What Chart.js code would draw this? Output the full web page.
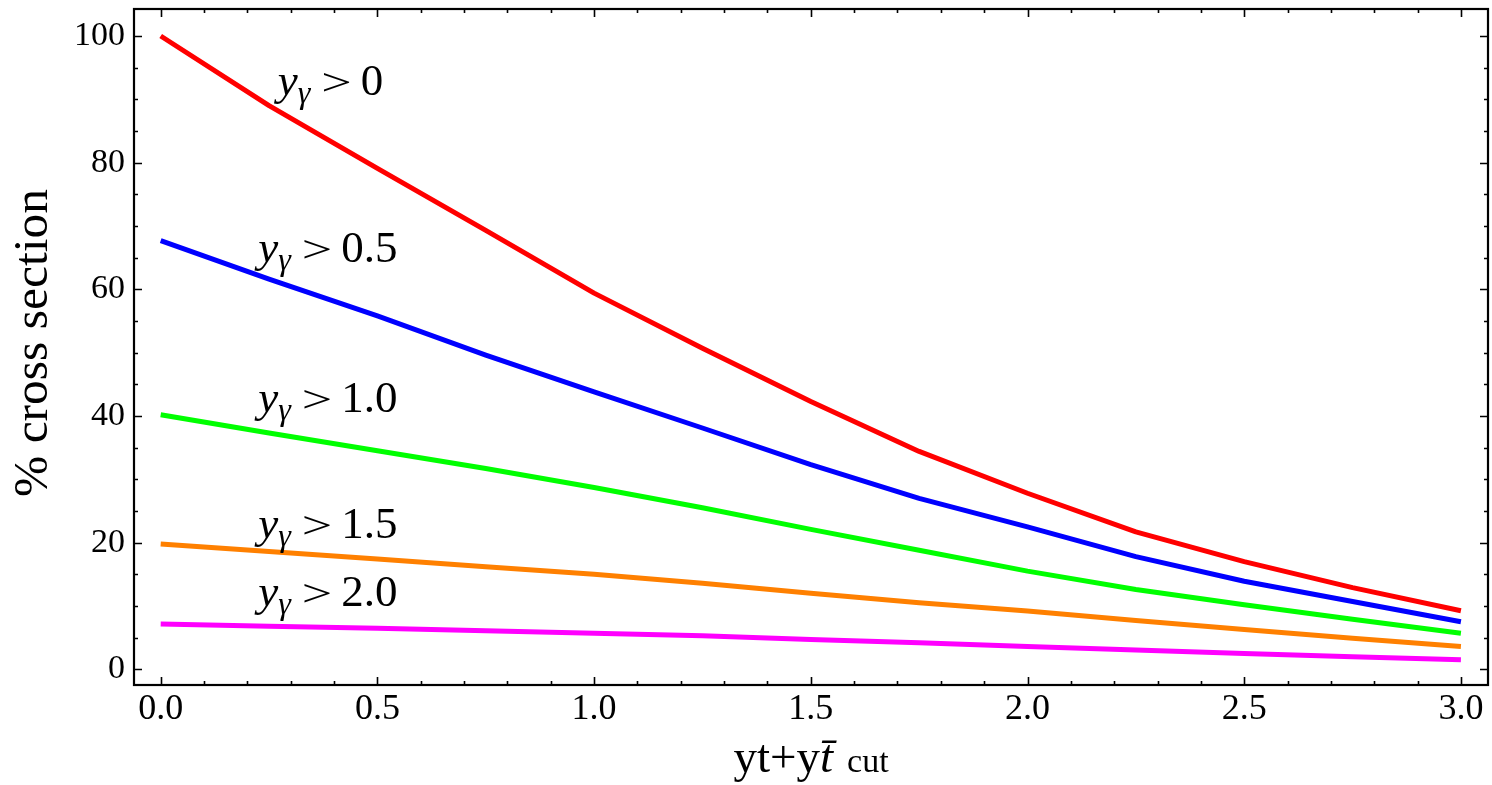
<!DOCTYPE html>
<html>
<head>
<meta charset="utf-8">
<script src="https://cdn.jsdelivr.net/npm/chart.js@4.4.1/dist/chart.umd.min.js"></script>
<style>
  html, body { margin: 0; padding: 0; background: #fff; }
  canvas { display: block; }
</style>
</head>
<body>
<canvas id="chart" width="1492" height="785"></canvas>
<script>
// cut on y_t + y_tbar (x axis)
const xCuts = [0, 0.25, 0.5, 0.75, 1.0, 1.25, 1.5, 1.75, 2.0, 2.25, 2.5, 2.75, 3.0];
// photon rapidity cuts, one curve each
const photonCuts = ["0", "0.5", "1.0", "1.5", "2.0"];
const redValues = [100, 89, 79.1, 69.3, 59.4, 50.7, 42.3, 34.4, 27.8, 21.7, 17.0, 12.9, 9.25];
const blueValues = [67.7, 61.6, 55.8, 49.6, 43.8, 38.1, 32.3, 27.0, 22.5, 17.8, 13.9, 10.7, 7.5];
const greenValues = [40.2, 37.3, 34.5, 31.7, 28.7, 25.5, 22.1, 18.8, 15.5, 12.6, 10.2, 7.9, 5.7];
const orangeValues = [19.8, 18.6, 17.4, 16.2, 15.0, 13.6, 12.0, 10.5, 9.2, 7.7, 6.3, 4.9, 3.6];
const magentaValues = [7.15, 6.8, 6.5, 6.1, 5.7, 5.3, 4.7, 4.2, 3.6, 3.05, 2.5, 2.0, 1.5];

const xTicks = [0, 0.5, 1.0, 1.5, 2.0, 2.5, 3.0];
const yTicks = [0, 20, 40, 60, 80, 100];
const xMinorStep = 0.1;
const yMinorStep = 5;

const colors = ["#ff0000", "#0000ff", "#00ff00", "#ff8000", "#ff00ff"];
// where each curve label sits (data coords: left edge, baseline)
const labelSpots = [
  [0.27, 90.7],
  [0.225, 64.3],
  [0.225, 40.6],
  [0.225, 20.7],
  [0.225, 10.0],
];

const FONT = "'Liberation Serif', 'Times New Roman', serif";

function toPoints(values) {
  return values.map((v, i) => ({ x: xCuts[i], y: v }));
}

const allValues = [redValues, blueValues, greenValues, orangeValues, magentaValues];

const datasets = allValues.map((vals, i) => ({
  label: "y_γ > " + photonCuts[i],
  data: toPoints(vals),
  borderColor: colors[i],
  borderWidth: 5,
  borderCapStyle: "butt",
  borderJoinStyle: "round",
  pointRadius: 0,
  fill: false,
  tension: 0,
}));

// frame with inward ticks on all four sides, plus the text Chart.js can't mix
const framePlugin = {
  id: "frame",
  afterDatasetsDraw(chart) {
    const { ctx, chartArea: a, scales } = chart;
    const xs = scales.x;
    const ys = scales.y;
    ctx.save();
    ctx.strokeStyle = "#000";
    ctx.lineWidth = 1.6;
    ctx.beginPath();
    for (let k = 0; k <= 30; k++) {
      const v = k * xMinorStep;
      const px = Math.round(xs.getPixelForValue(v)) + 0.5;
      const major = xTicks.some((t) => Math.abs(t - v) < 1e-6);
      const len = major ? 8 : 4;
      ctx.moveTo(px, a.bottom);
      ctx.lineTo(px, a.bottom - len);
      ctx.moveTo(px, a.top);
      ctx.lineTo(px, a.top + len);
    }
    for (let k = 0; k <= 20; k++) {
      const v = k * yMinorStep;
      const py = Math.round(ys.getPixelForValue(v)) + 0.5;
      const major = yTicks.includes(v);
      const len = major ? 8 : 4;
      ctx.moveTo(a.left, py);
      ctx.lineTo(a.left + len, py);
      ctx.moveTo(a.right, py);
      ctx.lineTo(a.right - len, py);
    }
    ctx.stroke();
    ctx.lineWidth = 2.2;
    ctx.strokeRect(a.left, a.top, a.right - a.left, a.bottom - a.top);
    ctx.restore();
  },
  afterDraw(chart) {
    const { ctx, chartArea: a, scales } = chart;
    ctx.save();
    ctx.fillStyle = "#000";
    ctx.textBaseline = "alphabetic";
    ctx.textAlign = "left";

    // curve labels: y_γ > cut
    labelSpots.forEach((spot, i) => {
      let x = scales.x.getPixelForValue(spot[0]);
      const y = scales.y.getPixelForValue(spot[1]);
      ctx.font = "italic 45px " + FONT;
      ctx.fillText("y", x, y);
      x += ctx.measureText("y").width;
      ctx.font = "italic 32px " + FONT;
      ctx.fillText("γ", x, y + 8);
      x += ctx.measureText("γ").width + 11;
      ctx.font = "45px " + FONT;
      // Mathematica's ">" is wider and flatter
      const gw = ctx.measureText(">").width;
      ctx.save();
      ctx.translate(x, y);
      ctx.scale(1.2, 0.85);
      ctx.fillText(">", 0, 0);
      ctx.restore();
      x += gw * 1.2 + 9;
      ctx.fillText(photonCuts[i], x, y);
    });

    // x axis title: yt+yt̄ cut
    const parts = [
      ["yt+y", "47px " + FONT, 0],
      ["t\u0304", "italic 47px " + FONT, 14],
      ["cut", "34px " + FONT, 0],
    ];
    let total = 0;
    parts.forEach((p) => {
      ctx.font = p[1];
      total += ctx.measureText(p[0]).width + p[2];
    });
    let tx = (a.left + a.right) / 2 - total / 2;
    parts.forEach((p) => {
      ctx.font = p[1];
      ctx.fillText(p[0], tx, 772);
      tx += ctx.measureText(p[0]).width + p[2];
    });

    // y axis title
    ctx.translate(47, 343);
    ctx.rotate(-Math.PI / 2);
    ctx.textAlign = "center";
    ctx.font = "49.5px " + FONT;
    ctx.fillText("% cross section", 0, 0);
    ctx.restore();
  },
};

new Chart("chart", {
  type: "line",
  data: { datasets: datasets },
  options: {
    responsive: false,
    devicePixelRatio: 1,
    animation: false,
    events: [],
    layout: { padding: { top: 9, right: 4, left: 0, bottom: 0 } },
    plugins: {
      legend: { display: false },
      tooltip: { enabled: false },
    },
    scales: {
      x: {
        type: "linear",
        min: -0.0616,
        max: 3.0625,
        grid: { display: false, drawTicks: false },
        border: { display: false },
        afterBuildTicks: (scale) => {
          scale.ticks = xTicks.map((v) => ({ value: v }));
        },
        afterFit: (scale) => {
          scale.height = 100;
          scale.paddingLeft = 0;
          scale.paddingRight = 0;
        },
        ticks: {
          padding: 3,
          color: "#000",
          font: { family: FONT, size: 36 },
          maxRotation: 0,
          callback: (v) => Number(v).toFixed(1),
        },
      },
      y: {
        type: "linear",
        min: -2.48,
        max: 104.26,
        grid: { display: false, drawTicks: false },
        border: { display: false },
        afterBuildTicks: (scale) => {
          scale.ticks = yTicks.map((v) => ({ value: v }));
        },
        afterFit: (scale) => {
          scale.width = 134;
          scale.paddingTop = 0;
          scale.paddingBottom = 0;
        },
        ticks: {
          padding: 9,
          color: "#000",
          font: { family: FONT, size: 34 },
          callback: (v) => String(v),
        },
      },
    },
  },
  plugins: [framePlugin],
});
</script>
</body>
</html>
